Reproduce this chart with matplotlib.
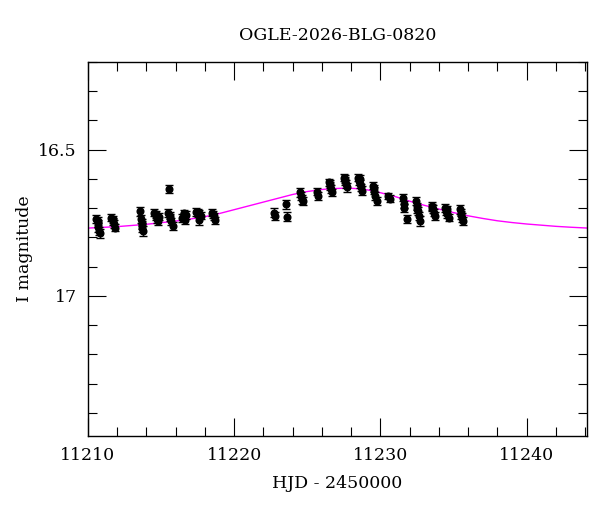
import matplotlib
matplotlib.use("Agg")
import matplotlib.pyplot as plt
from matplotlib.ticker import MultipleLocator
import numpy as np

plt.rcParams['font.family'] = ['DejaVu Serif']

# photometry, HJD - 2450000
hjd = [11210.58, 11210.65, 11210.70, 11210.74, 11210.80, 11210.68,
       11211.58, 11211.68, 11211.75, 11211.84, 11211.70,
       11213.58, 11213.63, 11213.66, 11213.72, 11213.76, 11213.68,
       11214.52, 11214.62, 11214.70, 11214.78, 11214.88, 11214.66,
       11215.55, 11215.48, 11215.60, 11215.68, 11215.78, 11215.64,
       11216.42, 11216.55, 11216.62, 11216.72, 11216.58,
       11217.42, 11217.52, 11217.60, 11217.70, 11217.56,
       11218.50, 11218.60, 11218.70, 11218.56,
       11222.75, 11222.80,
       11223.55, 11223.62,
       11224.52, 11224.60, 11224.65, 11224.72,
       11225.65, 11225.70,
       11226.50, 11226.58, 11226.62, 11226.70, 11226.55,
       11227.50, 11227.58, 11227.64, 11227.72, 11227.60,
       11228.48, 11228.56, 11228.60, 11228.65, 11228.72, 11228.62,
       11229.50, 11229.58, 11229.65, 11229.74, 11229.55,
       11230.55, 11230.65,
       11231.52, 11231.58, 11231.64, 11231.80,
       11232.42, 11232.50, 11232.56, 11232.62, 11232.70, 11232.53,
       11233.50, 11233.58, 11233.64, 11233.72, 11233.55,
       11234.40, 11234.50, 11234.56, 11234.66, 11234.53,
       11235.42, 11235.50, 11235.56, 11235.64, 11235.53]
imag = [16.738, 16.752, 16.765, 16.779, 16.786, 16.745,
        16.732, 16.744, 16.755, 16.766, 16.738,
        16.710, 16.738, 16.749, 16.766, 16.778, 16.758,
        16.715, 16.727, 16.736, 16.744, 16.730, 16.721,
        16.634, 16.715, 16.732, 16.744, 16.761, 16.725,
        16.733, 16.718, 16.741, 16.723, 16.728,
        16.712, 16.715, 16.742, 16.725, 16.718,
        16.715, 16.728, 16.742, 16.721,
        16.715, 16.727,
        16.687, 16.729,
        16.646, 16.658, 16.669, 16.675,
        16.643, 16.657,
        16.612, 16.624, 16.635, 16.646, 16.618,
        16.595, 16.607, 16.618, 16.629, 16.600,
        16.595, 16.607, 16.618, 16.629, 16.640, 16.601,
        16.624, 16.640, 16.657, 16.675, 16.632,
        16.659, 16.668,
        16.664, 16.687, 16.698, 16.737,
        16.676, 16.693, 16.710, 16.727, 16.744, 16.702,
        16.693, 16.704, 16.715, 16.727, 16.698,
        16.698, 16.710, 16.721, 16.732, 16.704,
        16.704, 16.715, 16.732, 16.744, 16.722]
ierr = [0.014, 0.013, 0.015, 0.014, 0.016, 0.014,
        0.013, 0.012, 0.014, 0.013, 0.013,
        0.015, 0.014, 0.013, 0.014, 0.016, 0.014,
        0.013, 0.012, 0.014, 0.013, 0.012, 0.013,
        0.013, 0.014, 0.013, 0.012, 0.014, 0.013,
        0.013, 0.012, 0.014, 0.013, 0.013,
        0.013, 0.014, 0.015, 0.013, 0.013,
        0.012, 0.013, 0.012, 0.013,
        0.015, 0.014,
        0.016, 0.015,
        0.014, 0.013, 0.015, 0.014,
        0.013, 0.014,
        0.012, 0.013, 0.014, 0.013, 0.013,
        0.012, 0.013, 0.014, 0.015, 0.013,
        0.013, 0.012, 0.014, 0.013, 0.015, 0.013,
        0.012, 0.013, 0.014, 0.015, 0.013,
        0.011, 0.012,
        0.012, 0.013, 0.014, 0.015,
        0.013, 0.012, 0.014, 0.013, 0.016, 0.013,
        0.013, 0.014, 0.012, 0.013, 0.013,
        0.014, 0.013, 0.012, 0.013, 0.013,
        0.015, 0.013, 0.014, 0.013, 0.014]

# model light curve
model_t = [11210, 11212, 11214, 11216, 11217, 11218, 11219, 11220, 11221, 11222,
           11223, 11224, 11225, 11226, 11226.7, 11227.3, 11228, 11228.7,
           11229.3, 11230, 11231, 11232, 11233, 11234, 11235, 11236,
           11237, 11238, 11239, 11240, 11241, 11242, 11243, 11244.2]
model_m = [16.768, 16.763, 16.755, 16.744, 16.737, 16.729, 16.718, 16.705, 16.692, 16.679,
           16.666, 16.653, 16.643, 16.636, 16.633, 16.632, 16.632, 16.634,
           16.639, 16.647, 16.660, 16.676, 16.690, 16.703, 16.715, 16.726,
           16.735, 16.743, 16.749, 16.754, 16.758, 16.762, 16.765, 16.768]

fig = plt.figure(figsize=(6, 5.12), dpi=100)
ax = fig.add_axes([88/600, 1-436/512, (587-88)/600, (436-62)/512])

ax.plot(model_t, model_m, color='magenta', lw=1, zorder=1)
ax.errorbar(hjd, imag, yerr=ierr, fmt='o', color='black', ms=4.8,
            ecolor='black', elinewidth=1, capsize=2.8, capthick=1, zorder=2)

ax.set_xlim(11210, 11244.13)
ax.set_ylim(17.479, 16.2)
ax.xaxis.set_major_locator(MultipleLocator(10))
ax.xaxis.set_minor_locator(MultipleLocator(2))
ax.yaxis.set_minor_locator(MultipleLocator(0.1))
ax.set_yticks([16.5, 17])
ax.set_yticklabels(['16.5', '17'])
ax.tick_params(which='both', direction='in', top=True, right=True,
               labelsize=12.5, width=0.8, pad=8)
ax.tick_params(which='major', length=13)
ax.tick_params(which='minor', length=6.5)
for s in ax.spines.values():
    s.set_linewidth(1)

ax.set_title('OGLE-2026-BLG-0820', fontsize=12.5, pad=16)
ax.set_xlabel('HJD - 2450000', fontsize=12.5, labelpad=8)
ax.set_ylabel('I magnitude', fontsize=12.5, labelpad=4)

fig.savefig('out.png', dpi=100)
